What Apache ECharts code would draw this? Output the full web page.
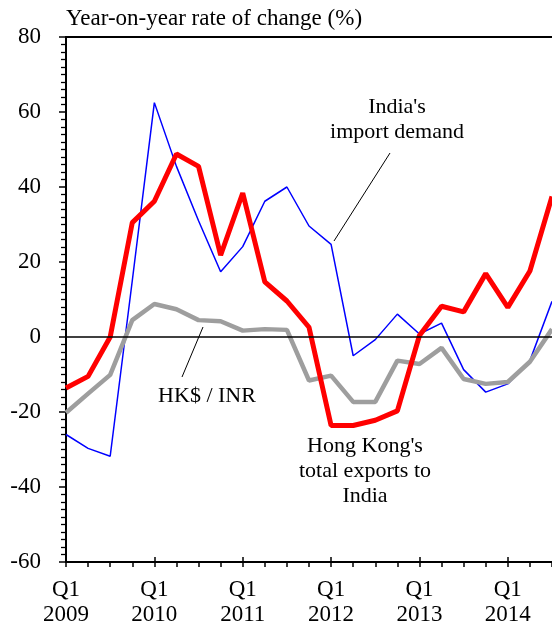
<!DOCTYPE html>
<html>
<head>
<meta charset="utf-8">
<script src="https://cdn.jsdelivr.net/npm/echarts@6/dist/echarts.min.js"></script>
<style>
html,body{margin:0;padding:0;background:#fff;}
#chart{width:552px;height:627px;}
</style>
</head>
<body>
<div id="chart"></div>
<script>
// Quarterly categories
var categories = [
  'Q1 2009','Q2 2009','Q3 2009','Q4 2009',
  'Q1 2010','Q2 2010','Q3 2010','Q4 2010',
  'Q1 2011','Q2 2011','Q3 2011','Q4 2011',
  'Q1 2012','Q2 2012','Q3 2012','Q4 2012',
  'Q1 2013','Q2 2013','Q3 2013','Q4 2013',
  'Q1 2014','Q2 2014','Q3 2014'
];
// India's import demand (yoy %)
var indiaImportDemand = [-26.0, -29.7, -31.8, 15.0, 62.5, 45.5, 31.0, 17.4, 24.1, 36.2, 40.0, 29.6, 24.7, -5.0, -0.7, 6.1, 0.8, 3.7, -8.7, -14.7, -12.5, -6.3, 9.5];
// Hong Kong's total exports to India (yoy %)
var hkExportsToIndia = [-13.6, -10.5, 0.0, 30.5, 36.2, 48.8, 45.5, 21.8, 38.4, 14.7, 9.6, 2.6, -23.6, -23.6, -22.2, -19.7, 0.4, 8.2, 6.7, 16.9, 7.9, 17.6, 37.5];
// HK$ / INR (yoy %)
var hkdInr = [-20.2, -15.1, -10.1, 4.5, 8.8, 7.4, 4.5, 4.2, 1.7, 2.1, 1.9, -11.6, -10.3, -17.3, -17.3, -6.3, -7.2, -2.9, -11.2, -12.5, -12.0, -6.6, 2.1];
// Y axis ticks
var yTicks = [-60, -40, -20, 0, 20, 40, 60, 80];

var FONT = '"Liberation Serif", "Times New Roman", serif';
var FS = 23;
var FSA = 22;

var chart = echarts.init(document.getElementById('chart'), null, {renderer: 'canvas'});

var option = {
  backgroundColor: '#ffffff',
  animation: false,
  textStyle: {fontFamily: FONT},
  grid: {left: 66, right: 0, top: 37, bottom: 64, containLabel: false},
  xAxis: [
    {
      type: 'category', data: categories, boundaryGap: false, position: 'bottom',
      axisLine: {show: true, onZero: false, lineStyle: {color: '#000', width: 2}},
      axisTick: {show: true, interval: 0, length: 5, lineStyle: {color: '#000', width: 1.5}},
      axisLabel: {
        show: true, interval: 3, margin: 15, color: '#000',
        fontFamily: FONT, fontSize: FS, lineHeight: 25,
        formatter: function (v) { return v.replace(' ', '\n'); }
      },
      splitLine: {show: false}
    },
    {
      type: 'category', data: categories, boundaryGap: false, position: 'bottom', gridIndex: 0,
      axisLine: {show: false, onZero: false},
      axisTick: {show: true, interval: 3, inside: true, length: 5, lineStyle: {color: '#000', width: 1.5}},
      axisLabel: {show: false}, splitLine: {show: false}
    },
    {
      type: 'category', data: categories, boundaryGap: false, position: 'top', gridIndex: 0,
      axisLine: {show: true, onZero: false, lineStyle: {color: '#000', width: 2}},
      axisTick: {show: false}, axisLabel: {show: false}, splitLine: {show: false}
    }
  ],
  yAxis: {
    type: 'value', min: yTicks[0], max: yTicks[yTicks.length - 1], interval: 20,
    axisLine: {show: true, onZero: false, lineStyle: {color: '#000', width: 2}},
    axisTick: {show: true, length: 7, lineStyle: {color: '#000', width: 1.5}},
    minorTick: {show: true, splitNumber: 10, length: 5, lineStyle: {color: '#000', width: 1.3}},
    axisLabel: {margin: 25, color: '#000', fontFamily: FONT, fontSize: FS},
    splitLine: {show: false}
  },
  series: [
    {
      name: "India's import demand", type: 'line', data: indiaImportDemand,
      showSymbol: false, symbol: 'none', z: 2,
      lineStyle: {color: '#0000ff', width: 1.5},
      markLine: {
        silent: true, symbol: 'none', animation: false,
        label: {show: false},
        lineStyle: {color: '#000', width: 1.5, type: 'solid'},
        data: [{yAxis: 0}]
      }
    },
    {
      name: 'HK$ / INR', type: 'line', data: hkdInr,
      showSymbol: false, symbol: 'none', z: 3,
      lineStyle: {color: '#9e9e9e', width: 4.5}
    },
    {
      name: "Hong Kong's total exports to India", type: 'line', data: hkExportsToIndia,
      showSymbol: false, symbol: 'none', z: 4,
      lineStyle: {color: '#ff0000', width: 5}
    }
  ],
  graphic: [
    {type: 'text', left: 66, top: 7, style: {text: 'Year-on-year rate of change (%)', font: FS + 'px ' + FONT, fill: '#000'}},
    {type: 'text', x: 397, y: 120, style: {text: "India's\nimport demand", font: FSA + 'px ' + FONT, fill: '#000', textAlign: 'center', textVerticalAlign: 'middle', lineHeight: 25}},
    {type: 'line', shape: {x1: 390, y1: 153, x2: 334, y2: 241}, style: {stroke: '#000', lineWidth: 1}},
    {type: 'text', x: 207, y: 396, style: {text: 'HK$ / INR', font: FSA + 'px ' + FONT, fill: '#000', textAlign: 'center', textVerticalAlign: 'middle'}},
    {type: 'line', shape: {x1: 203, y1: 327, x2: 182, y2: 377}, style: {stroke: '#000', lineWidth: 1}},
    {type: 'text', x: 365, y: 471, style: {text: "Hong Kong's\ntotal exports to\nIndia", font: FSA + 'px ' + FONT, fill: '#000', textAlign: 'center', textVerticalAlign: 'middle', lineHeight: 25}}
  ]
};
chart.setOption(option);
</script>
</body>
</html>
